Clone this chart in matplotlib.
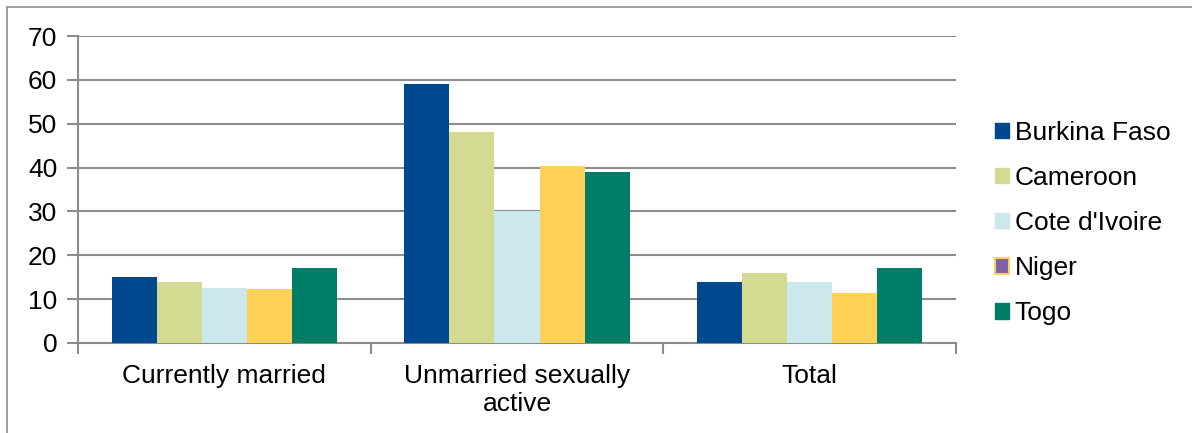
import numpy as np
import matplotlib.pyplot as plt
from matplotlib.patches import Patch, Rectangle

plt.rcParams['font.family'] = ['Liberation Sans', 'DejaVu Sans']

groups = ['Currently married', 'Unmarried sexually\nactive', 'Total']
countries = ['Burkina Faso', 'Cameroon', "Cote d'Ivoire", 'Niger', 'Togo']
burkina = [15, 59, 14]
cameroon = [14, 48, 16]
cote_divoire = [12.5, 30, 14]
niger = [12.2, 40.3, 11.3]
togo = [17, 39, 17]
series = [burkina, cameroon, cote_divoire, niger, togo]
colors = ['#00498F', '#D4DA91', '#CBE9EC', '#FFD257', '#007D66']

fig = plt.figure(figsize=(11.92, 4.33), dpi=100)
ax = fig.add_axes([78 / 1192, 1 - 343 / 433, 878 / 1192, 307 / 433])

x = np.arange(len(groups))
width = 0.77 / len(series)
for i, (vals, c) in enumerate(zip(series, colors)):
    ax.bar(x + (i - 2) * width, vals, width, color=c, zorder=3)

ax.set_xlim(-0.5, 2.5)
ax.set_ylim(0, 70)
ax.set_yticks(range(0, 71, 10))
ax.yaxis.grid(True, color='#8c8c8c', linewidth=1.5, zorder=0)
ax.set_xticks([-0.5, 0.5, 1.5, 2.5])
ax.set_xticklabels([])
ax.set_xticks(x, minor=True)
ax.set_xticklabels(groups, minor=True, fontsize=19, linespacing=1.2)
ax.tick_params(axis='x', which='minor', length=0, pad=15)
ax.tick_params(axis='x', which='major', length=8, width=1.5, color='#8c8c8c')
ax.tick_params(axis='y', length=8, width=1.5, color='#8c8c8c', labelsize=19, pad=7)
for s in ['top', 'right']:
    ax.spines[s].set_visible(False)
for s in ['left', 'bottom']:
    ax.spines[s].set_color('#8c8c8c')
    ax.spines[s].set_linewidth(1.5)

handles = [Patch(facecolor=c, edgecolor=c) for c in colors]
handles[3] = Patch(facecolor='#7F63A0', edgecolor='#FFD257', linewidth=1.5)
fig.legend(handles, countries, loc='center left', bbox_to_anchor=(995 / 1192, 1 - 223 / 433),
           frameon=False, fontsize=19, handlelength=0.53, handleheight=0.53,
           handletextpad=0.22, labelspacing=0.8, borderpad=0, borderaxespad=0)

# thin outer frame
fig.add_artist(Rectangle((7 / 1192, -0.1), 1.2, 1 - 7 / 433 + 0.1, transform=fig.transFigure,
                         fill=False, edgecolor='#8c8c8c', linewidth=1.2))

fig.savefig('out.png', dpi=100)
